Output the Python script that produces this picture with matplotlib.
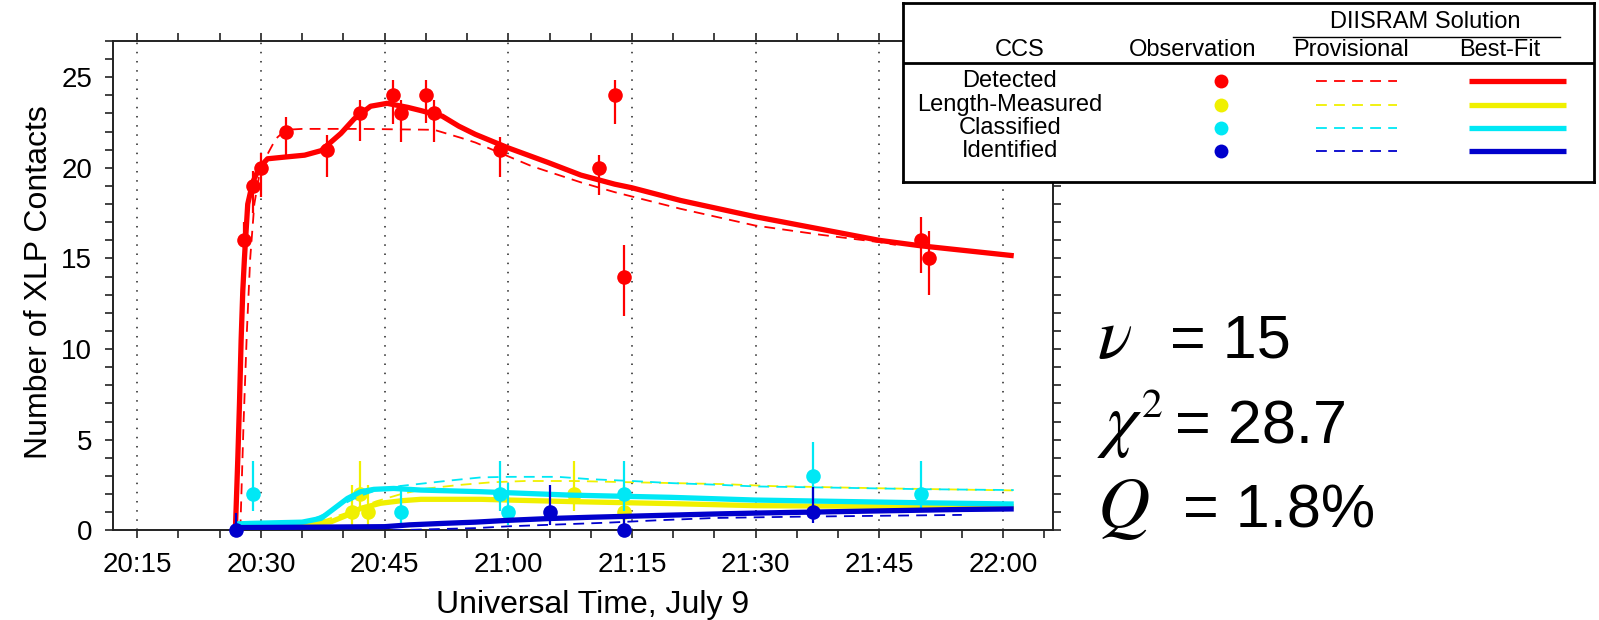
import matplotlib
matplotlib.use("Agg")
import matplotlib.pyplot as plt
from matplotlib.ticker import FixedLocator, MultipleLocator

plt.rcParams["font.family"] = ["Liberation Sans", "DejaVu Sans"]
plt.rcParams["mathtext.fontset"] = "stix"

W, H = 1599, 620

# time axis: minutes after 20:00 UT
tick_minutes = [15, 30, 45, 60, 75, 90, 105, 120]
tick_labels = ["20:15", "20:30", "20:45", "21:00", "21:15", "21:30", "21:45", "22:00"]

ccs_names = ["Detected", "Length-Measured", "Classified", "Identified"]
ccs_colors = ["#ff0000", "#f0f000", "#00e8f5", "#0000cc"]

# --- observations (counts with asymmetric error bars) ---
det_t = [28, 29, 30, 33, 38, 42, 46, 47, 50, 51, 59, 71, 73, 74, 110, 111]
det_n = [16, 19, 20, 22, 21, 23, 24, 23, 24, 23, 21, 20, 24, 14, 16, 15]
det_lo = [1.6, 1.5, 1.6, 1.3, 1.5, 1.5, 1.6, 1.6, 1.5, 1.6, 1.5, 1.5, 1.6, 2.2, 1.8, 2.0]
det_hi = [1.0, 0.8, 0.8, 0.8, 0.8, 0.75, 0.85, 0.75, 0.85, 0.75, 0.7, 0.7, 0.85, 1.75, 1.3, 1.5]

len_t = [41, 42, 43, 68, 74]
len_n = [1, 2, 1, 2, 1]
len_lo = [0.7, 0.95, 0.7, 0.95, 0.7]
len_hi = [1.5, 1.8, 1.5, 1.8, 1.5]

cls_t = [29, 47, 59, 60, 74, 97, 110]
cls_n = [2, 1, 2, 1, 2, 3, 2]
cls_lo = [0.95, 0.7, 0.95, 0.7, 0.95, 1.2, 0.95]
cls_hi = [1.8, 1.5, 1.8, 1.6, 1.8, 1.9, 1.8]

idn_t = [27, 65, 74, 97]
idn_n = [0, 1, 0, 1]
idn_lo = [0, 0.7, 0, 0.6]
idn_hi = [0.95, 1.5, 0.85, 1.4]

# --- DIISRAM provisional solution ---
det_prov_t = [27.5, 27.9, 28.3, 28.7, 29.2, 29.8, 30.5, 31.8, 33, 35, 42, 51, 54.3, 56,
              62.8, 68.8, 72.9, 80.9, 89.9, 98, 105, 107]
det_prov_n = [0, 6, 11, 15, 18, 19.6, 20.5, 21.6, 22.1, 22.15, 22.15, 22.1, 21.65, 21.4,
              20.1, 19.2, 18.66, 17.74, 16.82, 16.3, 15.9, 15.75]
len_prov_t = [33, 36, 38, 40, 42, 44, 47, 50, 54, 58, 62, 68, 75, 86, 92, 105, 121.3]
len_prov_n = [0.3, 0.4, 0.6, 0.9, 1.25, 1.6, 2.0, 2.3, 2.5, 2.65, 2.72, 2.72, 2.65, 2.55,
              2.44, 2.32, 2.2]
cls_prov_t = [30, 34, 36, 38, 40, 42, 44, 47, 50, 53.4, 56.7, 60, 66, 70, 75, 80, 85, 90,
              100, 110, 121.3]
cls_prov_n = [0.3, 0.35, 0.55, 0.95, 1.45, 1.9, 2.2, 2.45, 2.6, 2.77, 2.92, 2.95, 2.95,
              2.82, 2.72, 2.6, 2.52, 2.42, 2.35, 2.27, 2.22]
idn_prov_t = [46, 50, 56, 60, 66, 72, 78, 85, 95, 105, 115]
idn_prov_n = [0.0, 0.05, 0.12, 0.22, 0.32, 0.42, 0.55, 0.68, 0.75, 0.8, 0.85]

# --- DIISRAM best-fit solution ---
det_best_t = [26.9, 27.2, 27.4, 27.6, 27.8, 28.0, 28.4, 29.0, 29.8, 30.8, 33, 35.3, 37.3,
              39.7, 41.3, 43.3, 45.3, 47.8, 49.4, 52, 54, 56, 60, 64.8, 68.8, 72.9, 75,
              80.9, 90, 105, 110, 121.3]
det_best_n = [0, 4, 7, 10.5, 13.2, 15.0, 18.0, 19.2, 20.0, 20.5, 20.6, 20.7, 20.95, 21.9,
              22.7, 23.4, 23.56, 23.34, 23.16, 22.85, 22.3, 21.85, 21.1, 20.3, 19.6, 19.1,
              18.9, 18.2, 17.3, 16.0, 15.7, 15.15]
len_best_t = [31, 36, 38.5, 40.5, 42.1, 44.5, 47, 49.4, 56.7, 60, 68, 80, 90, 105, 118, 121.3]
len_best_n = [0.35, 0.38, 0.47, 0.84, 1.21, 1.49, 1.63, 1.71, 1.71, 1.67, 1.58, 1.47, 1.36,
              1.32, 1.3, 1.3]
cls_best_t = [27, 28.6, 35, 37.3, 38.9, 40.5, 42.1, 43.7, 46.1, 49.4, 56.7, 67.6, 79.7,
              89.9, 110, 121.3]
cls_best_n = [0.35, 0.38, 0.45, 0.66, 1.21, 1.76, 2.13, 2.26, 2.31, 2.22, 2.13, 1.94, 1.82,
              1.67, 1.52, 1.45]
idn_best_t = [27, 35, 45, 48, 52, 56, 60, 65, 70, 75, 80, 85, 90, 95, 100, 105, 110, 115, 121.3]
idn_best_n = [0.15, 0.17, 0.2, 0.3, 0.38, 0.45, 0.55, 0.65, 0.72, 0.78, 0.84, 0.9, 0.95,
              0.99, 1.03, 1.07, 1.11, 1.15, 1.18]

series = [
    (det_t, det_n, det_lo, det_hi, det_prov_t, det_prov_n, det_best_t, det_best_n),
    (len_t, len_n, len_lo, len_hi, len_prov_t, len_prov_n, len_best_t, len_best_n),
    (cls_t, cls_n, cls_lo, cls_hi, cls_prov_t, cls_prov_n, cls_best_t, cls_best_n),
    (idn_t, idn_n, idn_lo, idn_hi, idn_prov_t, idn_prov_n, idn_best_t, idn_best_n),
]

fig = plt.figure(figsize=(W / 100, H / 100), dpi=100, facecolor="white")

# main axes, placed in pixel terms
ax_l, ax_r, ax_t, ax_b = 112.5, 1052.5, 41, 530.3
ax = fig.add_axes([ax_l / W, 1 - ax_b / H, (ax_r - ax_l) / W, (ax_b - ax_t) / H])
ax.set_xlim(12, 126)
ax.set_ylim(0, 27)

for m in tick_minutes:
    ax.axvline(m, color="#222222", ls=(0, (1, 5)), lw=1.1, zorder=0)

z = 2
for (t, n, lo, hi, pt, pn, bt, bn), col in zip(series, ccs_colors):
    ax.plot(pt, pn, color=col, lw=1.3, ls=(0, (6, 4)), zorder=z)
    ax.plot(bt, bn, color=col, lw=3.8, solid_capstyle="butt", zorder=z + 1)
    ax.errorbar(t, n, yerr=[lo, hi], fmt="o", color=col, ms=10.5, mec="none",
                elinewidth=1.6, capsize=0, zorder=z + 2, clip_on=False)
    z += 3

ax.xaxis.set_major_locator(FixedLocator(tick_minutes))
ax.set_xticklabels(tick_labels)
ax.xaxis.set_minor_locator(MultipleLocator(5))
ax.yaxis.set_major_locator(MultipleLocator(5))
ax.yaxis.set_minor_locator(MultipleLocator(1))
ax.tick_params(which="both", direction="out", length=5.5, width=1.2, color="#222222",
               top=True, right=True)
ax.tick_params(axis="x", labelsize=20, pad=10)
ax.tick_params(axis="y", labelsize=20, pad=9)
for sp in ax.spines.values():
    sp.set_linewidth(1.4)
    sp.set_color("#222222")

fig.text(593 / W, 1 - 605 / H, "Universal Time, July 9", fontsize=23,
         ha="center", va="center")
fig.text(39 / W, 1 - 282 / H, "Number of XLP Contacts", fontsize=23,
         rotation=90, ha="center", va="center")

# ---- legend table ----
lx0, lx1, ly0, ly1 = 902.5, 1594, 3, 181.6
leg = fig.add_axes([lx0 / W, 1 - ly1 / H, (lx1 - lx0) / W, (ly1 - ly0) / H], zorder=5)
leg.set_xlim(lx0, lx1)
leg.set_ylim(ly1, ly0)
leg.set_xticks([])
leg.set_yticks([])
leg.set_facecolor("white")
for sp in leg.spines.values():
    sp.set_linewidth(2.0)
leg.plot([lx0, lx1], [63.2, 63.2], color="black", lw=2.0)
leg.plot([1293, 1560], [36.7, 36.7], color="black", lw=1.0)

fs = 17
leg.text(1425, 22, "DIISRAM Solution", fontsize=fs, ha="center", va="center")
for x, lab in [(1020, "CCS"), (1193, "Observation"), (1351, "Provisional"), (1500, "Best-Fit")]:
    leg.text(x, 50, lab, fontsize=fs, ha="center", va="center")

row_y = [81, 104.5, 128, 151]
for y, name, col in zip(row_y, ccs_names, ccs_colors):
    leg.text(1010, y, name, fontsize=fs, ha="center", va="center")
    leg.plot([1221], [y], "o", color=col, ms=10, mec="none")
    leg.plot([1316, 1397], [y, y], color=col, lw=1.3, ls=(0, (6, 4)))
    leg.plot([1469, 1566], [y, y], color=col, lw=3.8, solid_capstyle="butt")

# ---- goodness-of-fit summary ----
sym_x = 1097
stats = [(r"$\nu$", "= 15", 358, 1170), (r"$\chi$", "= 28.7", 443, 1175),
         (r"$Q$", "= 1.8%", 527, 1183)]
for sym, val, base, vx in stats:
    fig.text(sym_x / W, 1 - base / H, sym, fontsize=52, ha="left", va="baseline")
    fig.text(vx / W, 1 - base / H, val, fontsize=44, ha="left", va="baseline")
# superscript of chi squared
fig.text(1141 / W, 1 - 417 / H, r"$\mathrm{2}$", fontsize=30, ha="left", va="baseline")

fig.savefig("out.png", dpi=100, facecolor="white")
